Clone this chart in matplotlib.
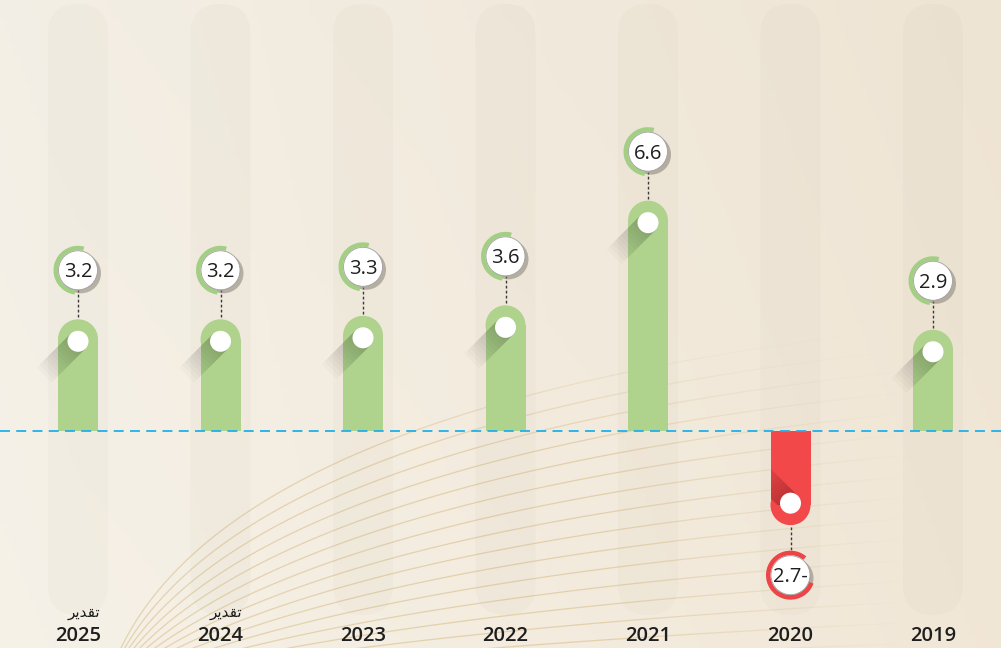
import numpy as np
import matplotlib.pyplot as plt
import matplotlib.patches as mpatches
import matplotlib.transforms as mtransforms
from matplotlib.lines import Line2D
from matplotlib.collections import LineCollection

plt.rcParams['font.family'] = ['Open Sans', 'DejaVu Sans']

# data (right-to-left chart, so 2025 sits on the left)
years = ['2025', '2024', '2023', '2022', '2021', '2020', '2019']
growth = [3.2, 3.2, 3.3, 3.6, 6.6, -2.7, 2.9]
value_labels = ['3.2', '3.2', '3.3', '3.6', '6.6', '2.7-', '2.9']
is_estimate = [True, True, False, False, False, False, False]
# "تقدير" written in presentation forms (visual order) since matplotlib doesn't shape arabic
estimate_text = '\ufeae\ufef3\ufeaa\ufed8\ufe97'

GREEN = '#afd38c'
RED = '#f2484a'

fig = plt.figure(figsize=(10.01, 6.48), dpi=100)
ax = fig.add_axes([0, 0, 1, 1])
xlim = (-0.5474, 6.4772)
ylim = (-6.22, 12.35)
ax.set_xlim(*xlim)
ax.set_ylim(*ylim)
ax.axis('off')

ppu_x = 1001 / (xlim[1] - xlim[0])
ppu_y = 648 / (ylim[1] - ylim[0])


def anchor(xv, yv):
    # pixel offsets around a data point
    return mtransforms.Affine2D() + mtransforms.ScaledTranslation(xv, yv, ax.transData)


# background paper
gx = np.linspace(0, 1, 200)
gy = np.linspace(0, 1, 100)[:, None]
c_left = np.array([0.955, 0.937, 0.900])
c_right = np.array([0.935, 0.895, 0.830])
bg = c_left[None, None, :] * (1 - gx[None, :, None]) + c_right[None, None, :] * gx[None, :, None]
bg = bg + 0.010 * gy[:, :, None]
ax.imshow(np.clip(bg, 0, 1), extent=(*xlim, *ylim), aspect='auto', zorder=0)

# decorative fan lines from bottom-left
disp = mtransforms.Affine2D().scale(1, -1).translate(0, 648)
t = np.linspace(0, 1, 300)[:, None]
for k in range(16):
    s = k / 15
    p0 = np.array([105, 690])
    p1 = np.array([190 + 260 * s, 390 + 270 * s])
    p2 = np.array([1001, 320 + 320 * s])
    pts = (1 - t) ** 2 * p0 + 2 * t * (1 - t) * p1 + t ** 2 * p2
    segs = np.stack([pts[:-1], pts[1:]], axis=1)
    xm = segs[:, 0, 0]
    fade = np.clip((900 - xm) / 300, 0, 1) * np.clip((segs[:, 0, 1] - 330) / 120, 0, 1)
    cols = np.zeros((len(segs), 4))
    cols[:, :3] = [0.83, 0.71, 0.47]
    cols[:, 3] = 0.5 * fade
    lc = LineCollection(segs, colors=cols, linewidths=0.9, transform=disp, zorder=1)
    ax.add_collection(lc)

x = np.arange(len(years))

# faint background columns
for xi in x:
    col = mpatches.FancyBboxPatch((-30, -184), 60, 611, boxstyle='round,pad=0,rounding_size=30',
                                  transform=anchor(xi, 0), fc='#8c7f68', alpha=0.035, ec='none', zorder=2)
    ax.add_patch(col)

r_cap = 20
heights = [v - np.sign(v) * r_cap / ppu_y for v in growth]
colors = [GREEN if v >= 0 else RED for v in growth]
bars = ax.bar(x, heights, width=40 / ppu_x, color=colors, zorder=4)

ax.axhline(0, color='#1fb0ea', lw=1.3, dashes=(5.5, 3.5), zorder=6)

for xi, v, lab, est, bar in zip(x, growth, value_labels, is_estimate, bars):
    sg = 1 if v >= 0 else -1
    c = GREEN if sg > 0 else RED
    tr = anchor(xi, v)
    ax.add_patch(mpatches.Circle((0, -sg * r_cap), r_cap, transform=tr, fc=c, ec='none', zorder=4))

    # long shadow of the white dot
    dot = np.array([0, -sg * 22.0])
    d = np.array([-1, -sg]) / np.sqrt(2)
    n = np.array([d[1], -d[0]])
    h = 10.5
    for i in range(1, 13):
        L = 4 * i
        poly = [dot + h * n, dot - h * n, dot - h * n + L * d, dot + h * n + L * d]
        sh = mpatches.Polygon(poly, closed=True, transform=tr, fc='black', alpha=0.018, ec='none', zorder=5)
        ax.add_patch(sh)
        if sg < 0:
            sh.set_clip_path(bar)
    ax.add_patch(mpatches.Circle(dot, 10.5, transform=tr, fc='white', ec='none', zorder=6))

    # connector and value bubble
    off = 49 if sg > 0 else -50
    ax.add_line(Line2D([0, 0], [sg * 2, off - sg * 20], transform=tr, color='#3a3a3a',
                       lw=1.0, linestyle=(0, (2, 1.6)), zorder=5))
    ax.add_patch(mpatches.Circle((3, off - 3), 20, transform=tr, fc='#7d776b', alpha=0.5, ec='none', zorder=7))
    if sg > 0:
        ring = mpatches.Wedge((0, off), 24.5, 75, 262, width=4.5, transform=tr, fc='#a3cf85', ec='none', zorder=8)
    else:
        ring = mpatches.Wedge((0, off), 24.5, 50, 340, width=4.5, transform=tr, fc='#ee4347', ec='none', zorder=8)
    ax.add_patch(ring)
    ax.add_patch(mpatches.Circle((0, off), 19.5, transform=tr, fc='white', ec='#a0a0a0', lw=0.6, zorder=9))
    ax.annotate(lab, xy=(xi, v), xytext=(0, off - 7), textcoords='offset pixels',
                ha='center', va='baseline', fontsize=14.5, color='#1e1e1e', zorder=10)

    # year labels
    ax.annotate(years[xi], xy=(xi, 0), xytext=(0, -210), textcoords='offset pixels',
                ha='center', va='baseline', fontsize=14.5, fontweight='semibold', color='#1e1e1e')
    if est:
        ax.annotate(estimate_text, xy=(xi, 0), xytext=(22, -186), textcoords='offset pixels',
                    ha='right', va='baseline', fontsize=11, color='#1e1e1e', family=['DejaVu Sans'])

fig.savefig('out.png', dpi=100)
